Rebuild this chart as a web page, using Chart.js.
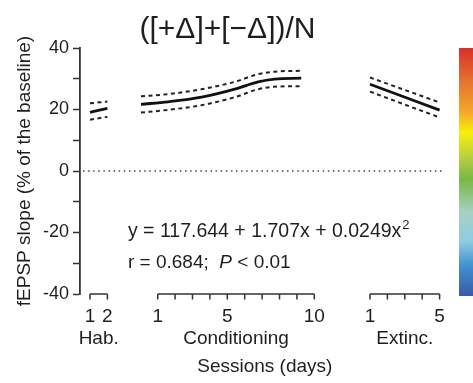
<!DOCTYPE html>
<html><head><meta charset="utf-8">
<script src="https://cdn.jsdelivr.net/npm/chart.js@4/dist/chart.umd.min.js"></script>
<style>html,body{margin:0;padding:0;background:#fff}</style>
</head><body>
<canvas id="c" width="473" height="383"></canvas>
<script>
// ---- data ----
const habSessions = [1, 2];
const habFit   = [19.1, 20.4];
const habUpper = [22.0, 22.6];
const habLower = [16.7, 17.6];

const condSessions = [0.04, 1.61, 3.52, 5.43, 6.77, 7.72, 9.25];
const condFit   = [21.7, 22.5, 24.0, 26.6, 29.0, 29.9, 30.2];
const condUpper = [24.3, 25.0, 26.6, 29.0, 31.5, 32.3, 32.6];
const condLower = [19.0, 19.9, 21.4, 24.0, 26.6, 27.4, 27.6];

const extSessions = [1, 5];
const extFit   = [28.2, 19.8];
const extUpper = [30.4, 22.3];
const extLower = [25.8, 17.4];

const habTicks  = [1, 2];
const condTicks = [1, 2, 3, 4, 5, 6, 7, 8, 9, 10];
const extTicks  = [1, 2, 3, 4, 5];
const habTickLabels  = {1: '1', 2: '2'};
const condTickLabels = {1: '1', 5: '5', 10: '10'};
const extTickLabels  = {1: '1', 5: '5'};
const groupNames = ['Hab.', 'Conditioning', 'Extinc.'];

const titleText = '([+\u0394]+[\u2212\u0394])/N';
const yTitle = 'fEPSP slope (% of the baseline)';
const xTitle = 'Sessions (days)';
const eqMain = 'y = 117.644 + 1.707x + 0.0249x';
const eqSup = '2';
const statR = 'r = 0.684;  ';
const statP = 'P';
const statRest = ' < 0.01';

// ---- layout constants ----
const offsets = {hab: 0, cond: 3.89, ext: 16.09};
const FONT = '"Liberation Sans", Arial, sans-serif';
const INK = '#1e1e1e';

function pts(xs, ys, off) { return xs.map((x, i) => ({x: x + off, y: ys[i]})); }
function solid(d) { return {data: d, borderColor: '#111', borderWidth: 2.8, pointRadius: 0, cubicInterpolationMode: 'monotone', fill: false}; }
function dashed(d) { return {data: d, borderColor: '#222', borderWidth: 2, borderDash: [4, 3.5], pointRadius: 0, cubicInterpolationMode: 'monotone', fill: false}; }

const datasets = [
  solid(pts(habSessions, habFit, offsets.hab)),
  dashed(pts(habSessions, habUpper, offsets.hab)),
  dashed(pts(habSessions, habLower, offsets.hab)),
  solid(pts(condSessions, condFit, offsets.cond)),
  dashed(pts(condSessions, condUpper, offsets.cond)),
  dashed(pts(condSessions, condLower, offsets.cond)),
  solid(pts(extSessions, extFit, offsets.ext)),
  dashed(pts(extSessions, extUpper, offsets.ext)),
  dashed(pts(extSessions, extLower, offsets.ext)),
];

const decor = {
  id: 'decor',
  beforeDatasetsDraw(chart) {
    const {ctx, chartArea: a, scales: {y}} = chart;
    ctx.save();
    ctx.strokeStyle = '#444';
    ctx.lineWidth = 1.6;
    ctx.setLineDash([1.5, 3.6]);
    const y0 = y.getPixelForValue(0);
    ctx.beginPath(); ctx.moveTo(a.left + 3, y0); ctx.lineTo(a.right, y0); ctx.stroke();
    ctx.restore();
  },
  afterDraw(chart) {
    const {ctx, chartArea: a, scales: {x, y}} = chart;
    ctx.save();
    const groups = [
      [habTicks, habTickLabels, offsets.hab],
      [condTicks, condTickLabels, offsets.cond],
      [extTicks, extTickLabels, offsets.ext],
    ];
    const yb = a.bottom;
    ctx.strokeStyle = '#333';
    ctx.lineWidth = 1.5;
    ctx.fillStyle = INK;
    ctx.textAlign = 'center';
    ctx.textBaseline = 'alphabetic';
    let minX = Infinity, maxX = -Infinity;
    groups.forEach(([ticks, labels, off], gi) => {
      const x1 = x.getPixelForValue(ticks[0] + off);
      const x2 = x.getPixelForValue(ticks[ticks.length - 1] + off);
      minX = Math.min(minX, x1); maxX = Math.max(maxX, x2);
      ctx.beginPath(); ctx.moveTo(x1, yb); ctx.lineTo(x2, yb); ctx.stroke();
      ctx.font = '19px ' + FONT;
      ticks.forEach(t => {
        const px = x.getPixelForValue(t + off);
        ctx.beginPath(); ctx.moveTo(px, yb); ctx.lineTo(px, yb + 5.5); ctx.stroke();
        if (labels[t]) ctx.fillText(labels[t], px, yb + 28);
      });
      ctx.fillText(groupNames[gi], (x1 + x2) / 2, yb + 50);
    });
    ctx.fillText(xTitle, (minX + maxX) / 2, yb + 78);

    // equation text
    ctx.textAlign = 'left';
    const ex = x.getPixelForValue(3.18);
    const ey = y.getPixelForValue(-21.4);
    ctx.font = '19.5px ' + FONT;
    ctx.fillText(eqMain, ex, ey);
    const w = ctx.measureText(eqMain).width;
    ctx.font = '13px ' + FONT;
    ctx.fillText(eqSup, ex + w + 1, ey - 8);
    const ry = y.getPixelForValue(-31.5);
    ctx.font = '19px ' + FONT;
    ctx.fillText(statR, ex, ry);
    let rx = ex + ctx.measureText(statR).width;
    ctx.font = 'italic 19px ' + FONT;
    ctx.fillText(statP, rx, ry);
    rx += ctx.measureText(statP).width;
    ctx.font = '19px ' + FONT;
    ctx.fillText(statRest, rx, ry);

    // colour bar
    const cbx = a.right + 14;
    const top = a.top, bot = a.bottom + 2;
    const g = ctx.createLinearGradient(0, top, 0, bot);
    g.addColorStop(0.00, '#d9302a');
    g.addColorStop(0.14, '#e7752f');
    g.addColorStop(0.26, '#f4a827');
    g.addColorStop(0.34, '#f9ef0a');
    g.addColorStop(0.45, '#b1cc45');
    g.addColorStop(0.53, '#79b843');
    g.addColorStop(0.66, '#a7d0c4');
    g.addColorStop(0.78, '#8fcbe0');
    g.addColorStop(0.88, '#3f90cf');
    g.addColorStop(1.00, '#3a5aa6');
    ctx.fillStyle = g;
    ctx.fillRect(cbx, top, 20, bot - top);
    ctx.restore();
  }
};

new Chart(document.getElementById('c'), {
  type: 'line',
  data: {datasets},
  plugins: [decor],
  options: {
    responsive: false,
    animation: false,
    layout: {padding: {left: 10, right: 28, top: 0, bottom: 89}},
    plugins: {
      legend: {display: false},
      tooltip: {enabled: false},
      title: {
        display: true, text: titleText, color: INK,
        font: {family: FONT, size: 30, weight: 'normal', lineHeight: 1.2},
        padding: {top: 12, bottom: 0}
      }
    },
    scales: {
      x: {type: 'linear', min: 0.4253, max: 21.40, display: false},
      y: {
        min: -40, max: 40,
        afterFit(s) { s.width = 70; },
        border: {display: true, color: '#333', width: 1.8},
        grid: {drawOnChartArea: false, drawTicks: true, tickLength: 7, color: '#333', tickWidth: 1.5},
        ticks: {stepSize: 10, padding: 4, color: INK, font: {family: FONT, size: 18},
          callback: v => (v % 20 === 0 ? String(v) : '')},
        title: {display: true, text: yTitle, color: INK, padding: {top: 3, bottom: 0},
          font: {family: FONT, size: 19, lineHeight: 1.2}}
      }
    }
  }
});
</script>
</body></html>
